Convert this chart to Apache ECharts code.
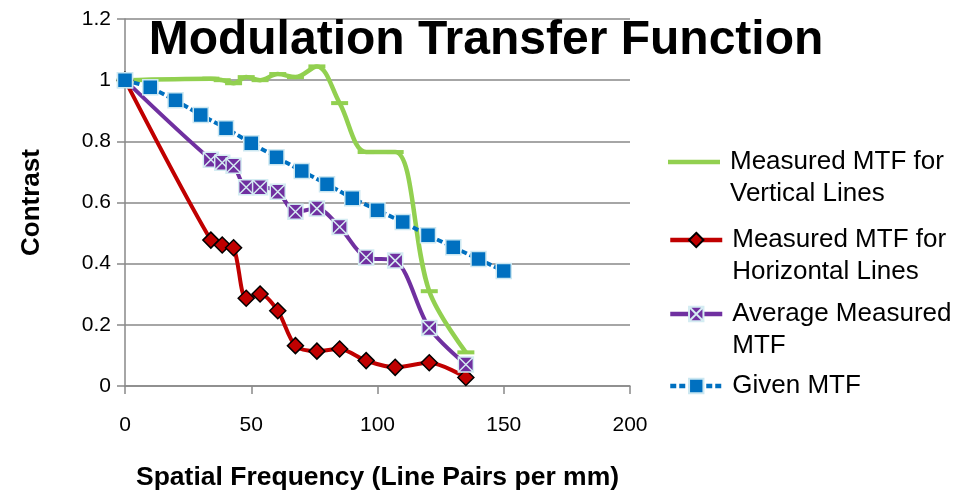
<!DOCTYPE html>
<html>
<head>
<meta charset="utf-8">
<script src="https://cdn.jsdelivr.net/npm/echarts@6/dist/echarts.min.js"></script>
<style>
  html, body { margin: 0; padding: 0; background: #ffffff; }
  #chart { width: 957px; height: 490px; }
</style>
</head>
<body>
<div id="chart"></div>
<script>
// Spatial frequencies (line pairs per mm) of the measured targets
const measuredFreq = [0, 34, 38.5, 43, 48, 53.5, 60.5, 67.5, 76, 85, 95.5, 107, 120.5, 135];
// Contrast measured on vertical line targets
const verticalMTF = [1, 1.005, 1.0, 0.99, 1.01, 1.0, 1.02, 1.01, 1.045, 0.925, 0.765, 0.765, 0.31, 0.11];
// Contrast measured on horizontal line targets
const horizontalMTF = [1, 0.477, 0.461, 0.452, 0.287, 0.301, 0.246, 0.132, 0.114, 0.121, 0.083, 0.061, 0.076, 0.028];
// Mean of the two measured curves
const averageMTF = [1, 0.74, 0.73, 0.72, 0.65, 0.65, 0.635, 0.57, 0.58, 0.52, 0.42, 0.41, 0.19, 0.07];
// Frequencies and contrast of the specified MTF
const givenFreq = [0, 10, 20, 30, 40, 50, 60, 70, 80, 90, 100, 110, 120, 130, 140, 150];
const givenMTF = [1, 0.977, 0.934, 0.886, 0.843, 0.794, 0.748, 0.703, 0.66, 0.614, 0.575, 0.536, 0.493, 0.454, 0.415, 0.376];
// Axis tick labels
const xTickLabels = ['0', '50', '100', '150', '200'];
const yTickLabels = ['0', '0.2', '0.4', '0.6', '0.8', '1', '1.2'];

const seriesNames = [
  'Measured MTF for\nVertical Lines',
  'Measured MTF for\nHorizontal Lines',
  'Average Measured\nMTF',
  'Given MTF'
];

const pairs = (xs, ys) => xs.map((x, i) => [x, ys[i]]);

const FONT = '"Liberation Sans", Arial, sans-serif';
const GRID_GRAY = '#898989';
const GREEN = '#92d050';
const LEGEND_LH = 32;

// Square with a diagonal cross, for the average curve
const crossBox = 'path://M0,0 L10,0 L10,10 L0,10 Z M0,0 L10,10 M10,0 L0,10';
// Plain thick bar used as the legend key of the vertical-lines curve
const barIcon = 'path://M0,0 L52,0 L52,4.5 L0,4.5 Z';

// One legend block per series; two-line entries get a blank leading line so
// the icon sits level with the first line of text.
const legendFirstLine = [162, 240, 314, 386];
const legends = seriesNames.map((name, i) => {
  const twoLine = name.indexOf('\n') >= 0;
  const top = twoLine ? legendFirstLine[i] - 1.5 * LEGEND_LH : legendFirstLine[i] - LEGEND_LH / 2;
  return {
    data: [i === 0 ? { name: name, icon: barIcon, itemStyle: { color: GREEN } } : name],
    orient: 'vertical',
    left: 668,
    top: top,
    padding: 0,
    itemWidth: 52,
    itemHeight: 18,
    itemGap: 0,
    selectedMode: false,
    lineStyle: { width: 4.5 },
    formatter: (n) => (twoLine ? ' \n' + n : n),
    textStyle: {
      fontFamily: FONT,
      fontSize: 26,
      color: '#000',
      lineHeight: LEGEND_LH,
      padding: [0, 0, 0, 5]
    }
  };
});

const chart = echarts.init(document.getElementById('chart'), null, { renderer: 'canvas' });
chart.setOption({
  backgroundColor: '#ffffff',
  animation: false,
  title: {
    text: 'Modulation Transfer Function',
    left: 481,
    textAlign: 'center',
    top: 12,
    textStyle: { fontFamily: FONT, fontSize: 48, fontWeight: 'bold', color: '#000' }
  },
  legend: legends,
  grid: {
    left: 125, right: 327, top: 19, bottom: 104,
    containLabel: false,
    outerBoundsMode: 'none'
  },
  xAxis: {
    type: 'value',
    min: 0, max: 200, interval: 50,
    name: 'Spatial Frequency (Line Pairs per mm)',
    nameLocation: 'middle',
    nameGap: 78,
    nameTextStyle: { fontFamily: FONT, fontSize: 26.5, fontWeight: 'bold', color: '#000' },
    axisLine: { lineStyle: { color: GRID_GRAY, width: 1.5 } },
    axisTick: { show: true, length: 8, lineStyle: { color: GRID_GRAY, width: 1.5 } },
    axisLabel: {
      margin: 29, fontFamily: FONT, fontSize: 21, color: '#000',
      formatter: (v) => xTickLabels[Math.round(v / 50)]
    },
    splitLine: { show: false }
  },
  yAxis: {
    type: 'value',
    min: 0, max: 1.2, interval: 0.2,
    name: 'Contrast',
    nameLocation: 'middle',
    nameGap: 80,
    nameRotate: 90,
    nameTextStyle: { fontFamily: FONT, fontSize: 26, fontWeight: 'bold', color: '#000' },
    axisLine: { show: true, lineStyle: { color: GRID_GRAY, width: 1.5 } },
    axisTick: { show: true, length: 8, lineStyle: { color: GRID_GRAY, width: 1.5 } },
    axisLabel: {
      margin: 14, fontFamily: FONT, fontSize: 21, color: '#000',
      formatter: (v) => yTickLabels[Math.round(v / 0.2)]
    },
    splitLine: { show: true, lineStyle: { color: GRID_GRAY, width: 1.5 } }
  },
  series: [
    {
      name: seriesNames[0],
      type: 'line',
      data: pairs(measuredFreq, verticalMTF),
      smooth: 0.35,
      symbol: 'rect',
      symbolSize: [17, 4],
      lineStyle: { color: GREEN, width: 4.5 },
      itemStyle: { color: GREEN, borderWidth: 0 },
      z: 3
    },
    {
      name: seriesNames[1],
      type: 'line',
      data: pairs(measuredFreq, horizontalMTF),
      smooth: 0.3,
      symbol: 'diamond',
      symbolSize: 16,
      lineStyle: { color: '#c00000', width: 4 },
      itemStyle: { color: '#c00000', borderColor: '#000', borderWidth: 1.5 },
      z: 4
    },
    {
      name: seriesNames[2],
      type: 'line',
      data: pairs(measuredFreq, averageMTF),
      smooth: 0.3,
      symbol: crossBox,
      symbolSize: 15,
      lineStyle: { color: '#7030a0', width: 4 },
      itemStyle: { color: '#7030a0', borderColor: '#d4ecf2', borderWidth: 1.5 },
      z: 5
    },
    {
      name: seriesNames[3],
      type: 'line',
      data: pairs(givenFreq, givenMTF),
      smooth: false,
      symbol: 'rect',
      symbolSize: 15,
      lineStyle: { color: '#0070c0', width: 4, type: [6, 3] },
      itemStyle: { color: '#0070c0', borderColor: '#cbe7f1', borderWidth: 1.5 },
      z: 6
    }
  ]
});
</script>
</body>
</html>
